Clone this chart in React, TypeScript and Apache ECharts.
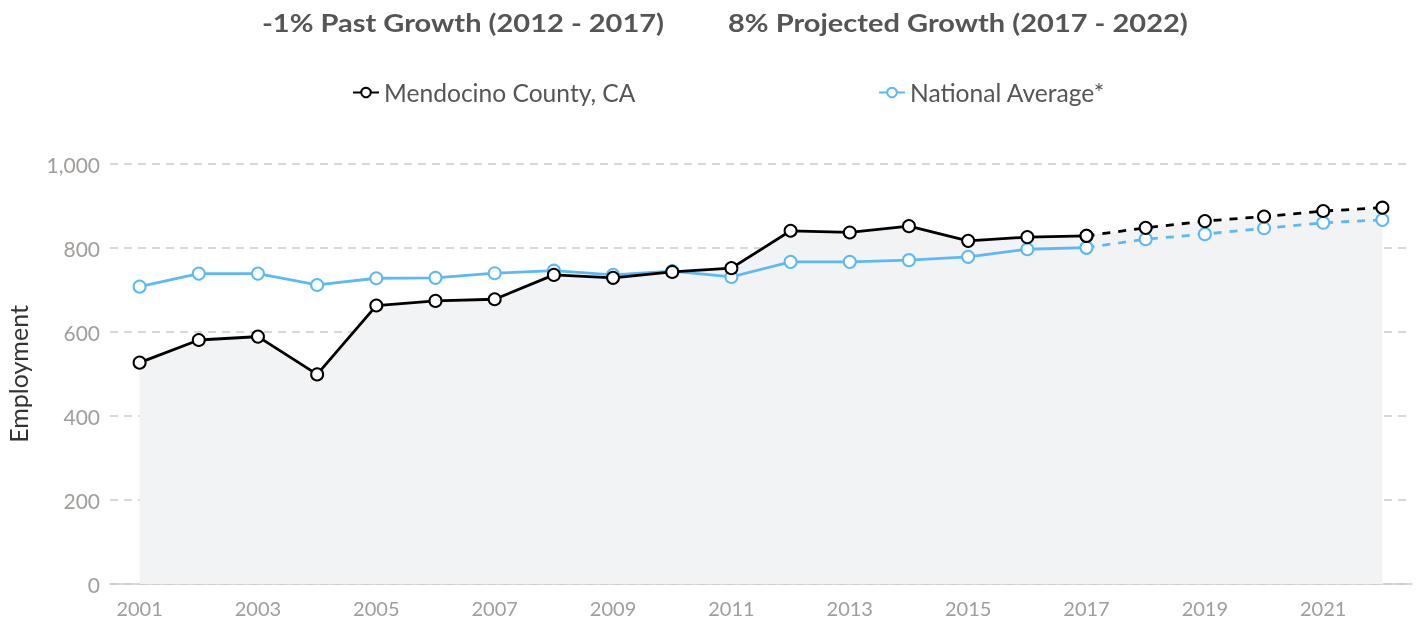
import React, { useEffect, useRef } from "react";
import * as echarts from "echarts";

const years = ["2001","2002","2003","2004","2005","2006","2007","2008","2009","2010","2011","2012","2013","2014","2015","2016","2017","2018","2019","2020","2021","2022"];
const mendocinoPast = [527, 581, 589, 499, 663, 674, 678, 736, 729, 743, 752, 841, 837, 852, 817, 826, 829];
const mendocinoProjected = [829, 848, 864, 875, 888, 896];
const nationalPast = [708, 739, 739, 712, 728, 729, 740, 746, 736, 745, 731, 767, 767, 771, 779, 797, 801];
const nationalProjected = [801, 821, 833, 847, 860, 867];
const titles = ["-1% Past Growth (2012 - 2017)", "8% Projected Growth (2017 - 2022)"];
const seriesNames = ["Mendocino County, CA", "National Average*"];

const BLACK = "#000000";
const BLUE = "#5cb9f6";
const FONT = "Lato";
const LABEL = "#a09d9a";

function padPast(arr: number[]) {
  return years.map((_, i) => (i < arr.length ? arr[i] : null));
}
function padProjected(arr: number[]) {
  const start = years.length - arr.length;
  return years.map((_, i) => (i >= start ? arr[i - start] : null));
}

export default function App() {
  const ref = useRef<HTMLDivElement>(null);
  useEffect(() => {
    if (!ref.current) return;
    const chart = echarts.init(ref.current, undefined, { renderer: "svg" });
    const lineSeries = (name: string, data: (number | null)[], color: string, dashed: boolean, z: number) => ({
      type: "line",
      name,
      data,
      z,
      symbol: "emptyCircle",
      symbolSize: 12,
      showAllSymbol: true,
      connectNulls: false,
      lineStyle: { color, width: 2.8, type: dashed ? [8, 8] : "solid" },
      itemStyle: { color, borderWidth: 2.8 },
      emphasis: { disabled: true },
    });
    const fillData = mendocinoPast.concat(mendocinoProjected.slice(1));
    const legendCommon = {
      top: 80, padding: 0, itemWidth: 26, itemHeight: 12,
      textStyle: { fontFamily: FONT, fontSize: 24.6, color: "#555555" },
      selectedMode: false,
    };
    chart.setOption({
      animation: false,
      textStyle: { fontFamily: FONT },
      graphic: [
        {
          type: "text", x: 262, y: 23, scaleX: 1.21,
          style: { text: titles[0], font: `bold 24px ${FONT}`, fill: "#555555", verticalAlign: "middle" },
        },
        {
          type: "text", x: 728, y: 23, scaleX: 1.21,
          style: { text: titles[1], font: `bold 24px ${FONT}`, fill: "#555555", verticalAlign: "middle" },
        },
      ],
      legend: [
        { ...legendCommon, left: 352, data: [{ name: seriesNames[0], lineStyle: { type: "solid" } }] },
        { ...legendCommon, left: 878, data: [{ name: seriesNames[1], lineStyle: { type: "solid" } }] },
      ],
      grid: { left: 110, right: 8, top: 164, bottom: 44, containLabel: false, outerBoundsMode: "none" },
      xAxis: {
        type: "category",
        data: years,
        boundaryGap: true,
        axisLine: { lineStyle: { color: "#cccccc", width: 1.5 } },
        axisTick: { show: false },
        axisLabel: { interval: 1, color: LABEL, fontSize: 20, fontFamily: FONT, margin: 14 },
      },
      yAxis: {
        type: "value",
        min: 0,
        max: 1000,
        interval: 200,
        name: "Employment",
        nameLocation: "middle",
        nameGap: 80,
        nameTextStyle: { color: "#333333", fontSize: 25, fontFamily: FONT },
        axisLine: { show: false },
        axisTick: { show: false },
        axisLabel: {
          color: LABEL, fontSize: 21, fontFamily: FONT, margin: 10,
          formatter: (v: number) => v.toLocaleString("en-US"),
        },
        splitLine: { lineStyle: { color: "#cccccc", type: [8, 6], width: 1.5 } },
      },
      series: [
        {
          type: "line",
          name: "fill",
          data: fillData,
          z: 1,
          symbol: "none",
          lineStyle: { width: 0, opacity: 0 },
          areaStyle: { color: "#f2f3f5", opacity: 1 },
          emphasis: { disabled: true },
          silent: true,
        },
        lineSeries(seriesNames[1], padPast(nationalPast), BLUE, false, 3),
        lineSeries(seriesNames[1], padProjected(nationalProjected), BLUE, true, 3),
        lineSeries(seriesNames[0], padPast(mendocinoPast), BLACK, false, 4),
        lineSeries(seriesNames[0], padProjected(mendocinoProjected), BLACK, true, 4),
      ],
    });
    return () => chart.dispose();
  }, []);
  return <div ref={ref} style={{ position: "fixed", left: 0, top: 0, width: 1420, height: 628 }} />;
}
